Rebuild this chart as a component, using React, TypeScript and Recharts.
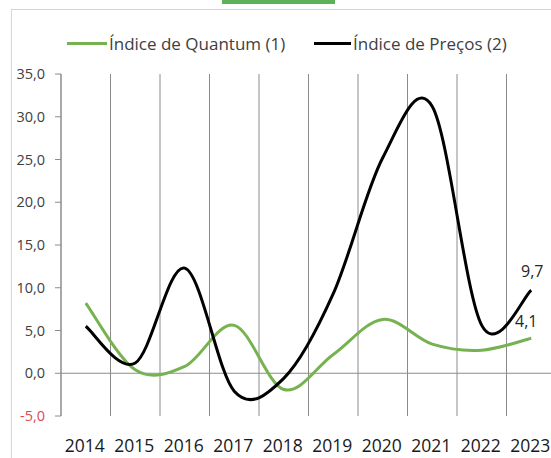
import React from "react";
import {
  LineChart,
  Line,
  XAxis,
  YAxis,
  CartesianGrid,
  ReferenceLine,
  Legend,
  LabelList,
} from "recharts";

const years = ["2014", "2015", "2016", "2017", "2018", "2019", "2020", "2021", "2022", "2023"];
const quantum = [8.2, 0.4, 0.8, 5.6, -1.9, 2.2, 6.3, 3.4, 2.7, 4.1];
const precos = [5.5, 1.2, 12.3, -2.1, -0.6, 9.3, 25.2, 31.2, 5.6, 9.7];
const yTicks = [-5, 0, 5, 10, 15, 20, 25, 30, 35];

const seriesNames = {
  quantum: "Índice de Quantum (1)",
  precos: "Índice de Preços (2)",
};

const GREEN = "#76b250";
const GRID = "#8c8c8c";
const TEXT = "#404040";
const FONT = "'Open Sans', sans-serif";

const data = years.map((year, i) => ({
  year,
  pos: i + 0.5,
  quantum: quantum[i],
  precos: precos[i],
}));

// Excel-like smoothed line (Catmull-Rom through points)
const smoothCurve: any = (context: any) => {
  let pts: number[][] = [];
  return {
    areaStart() {},
    areaEnd() {},
    lineStart() {
      pts = [];
    },
    point(x: number, y: number) {
      pts.push([+x, +y]);
    },
    lineEnd() {
      if (!pts.length) return;
      context.moveTo(pts[0][0], pts[0][1]);
      for (let i = 0; i < pts.length - 1; i++) {
        const p0 = pts[i - 1] || pts[i];
        const p1 = pts[i];
        const p2 = pts[i + 1];
        const p3 = pts[i + 2] || p2;
        context.bezierCurveTo(
          p1[0] + (p2[0] - p0[0]) / 6,
          p1[1] + (p2[1] - p0[1]) / 6,
          p2[0] - (p3[0] - p1[0]) / 6,
          p2[1] - (p3[1] - p1[1]) / 6,
          p2[0],
          p2[1]
        );
      }
    },
  };
};

const fmt = (v: number) => v.toFixed(1).replace(".", ",");

const YTick = (props: any) => {
  const { x, y, payload } = props;
  const v = payload.value;
  return (
    <text
      x={x - 8}
      y={y}
      dy="0.36em"
      textAnchor="end"
      fontFamily={FONT}
      fontSize={14.5}
      fill={v < 0 ? "#e0474c" : TEXT}
    >
      {fmt(v)}
    </text>
  );
};

const XTick = (props: any) => {
  const { x, y, payload } = props;
  const idx = Math.round(payload.value - 0.5);
  return (
    <text
      x={x - 1}
      y={y}
      dy={28}
      textAnchor="middle"
      fontFamily={FONT}
      fontSize={17.5}
      fill="#1a1a1a"
    >
      {years[idx]}
    </text>
  );
};

const makeLastLabel = (dx: number, dy: number) => (props: any) => {
  const { x, y, value, index } = props;
  if (index !== years.length - 1) return null;
  return (
    <text
      x={x + dx}
      y={y + dy}
      dy="0.36em"
      textAnchor="middle"
      fontFamily={FONT}
      fontSize={16}
      fill="#262626"
    >
      {fmt(value)}
    </text>
  );
};

const LegendContent = () => (
  <div
    style={{
      position: "relative",
      height: 24,
      fontFamily: FONT,
      fontSize: 17,
      color: TEXT,
      whiteSpace: "nowrap",
    }}
  >
    <div style={{ position: "absolute", left: 67, top: 0, display: "flex", alignItems: "center", height: 24 }}>
      <div style={{ width: 40, height: 3, background: GREEN }} />
      <span style={{ marginLeft: 2 }}>{seriesNames.quantum}</span>
    </div>
    <div style={{ position: "absolute", left: 314, top: 0, display: "flex", alignItems: "center", height: 24 }}>
      <div style={{ width: 37, height: 3, background: "#000" }} />
      <span style={{ marginLeft: 2 }}>{seriesNames.precos}</span>
    </div>
  </div>
);

export default function App() {
  const nCats = years.length;
  return (
    <div
      style={{
        position: "absolute",
        left: 0,
        top: 0,
        width: 551,
        height: 458,
        overflow: "hidden",
        background: "#fff",
      }}
    >
      <div
        style={{
          position: "absolute",
          left: 222,
          top: 0,
          width: 113,
          height: 4,
          background: "#5db257",
        }}
      />
      <div
        style={{
          position: "absolute",
          left: 11,
          top: 9,
          width: 600,
          height: 600,
          borderLeft: "1px solid #d9d9d9",
          borderTop: "1px solid #d4d4d4",
          boxShadow: "0 1px 2px rgba(0,0,0,0.06)",
        }}
      />
      <div style={{ position: "absolute", left: 0, top: 0 }}>
        <LineChart
          width={562}
          height={458}
          data={data}
          margin={{ top: 50, right: 6, bottom: 0, left: 0 }}
        >
          <CartesianGrid
            horizontal={false}
            stroke={GRID}
            verticalCoordinatesGenerator={({ offset }: any) =>
              Array.from({ length: nCats + 1 }, (_, i) => offset.left + (i * offset.width) / nCats)
            }
          />
          <XAxis
            type="number"
            dataKey="pos"
            domain={[0, nCats]}
            ticks={data.map((d) => d.pos)}
            axisLine={false}
            tickLine={false}
            height={42}
            tick={<XTick />}
            interval={0}
          />
          <YAxis
            type="number"
            domain={[-5, 35]}
            ticks={yTicks}
            width={61}
            axisLine={{ stroke: GRID }}
            tickLine={{ stroke: GRID }}
            tickSize={6}
            tick={<YTick />}
            interval={0}
          />
          <ReferenceLine y={0} stroke={GRID} />
          <Legend verticalAlign="top" content={<LegendContent />} wrapperStyle={{ top: 31, left: 0, width: 562 }} />
          <Line
            dataKey="quantum"
            name={seriesNames.quantum}
            type={smoothCurve}
            stroke={GREEN}
            strokeWidth={3}
            dot={false}
            activeDot={false}
            isAnimationActive={false}
          >
            <LabelList dataKey="quantum" content={makeLastLabel(-5, -17)} />
          </Line>
          <Line
            dataKey="precos"
            name={seriesNames.precos}
            type={smoothCurve}
            stroke="#000"
            strokeWidth={3}
            dot={false}
            activeDot={false}
            isAnimationActive={false}
          >
            <LabelList dataKey="precos" content={makeLastLabel(1, -19)} />
          </Line>
        </LineChart>
      </div>
    </div>
  );
}
